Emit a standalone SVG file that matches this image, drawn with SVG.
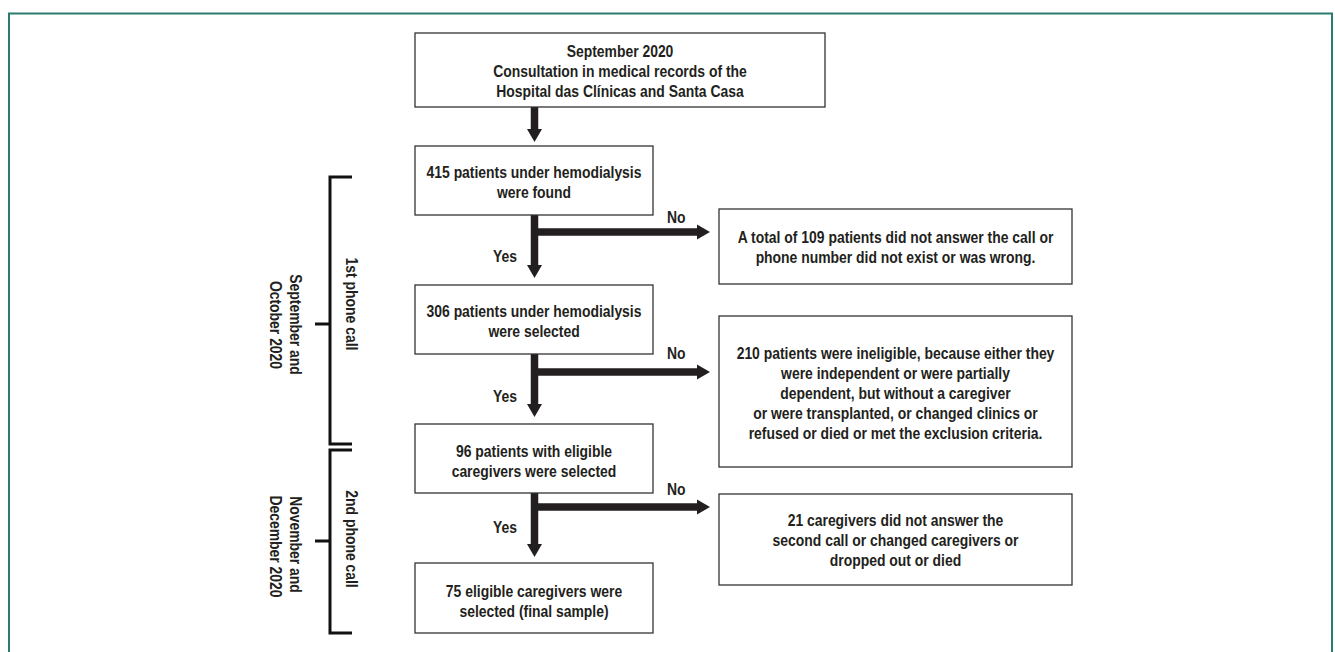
<svg xmlns="http://www.w3.org/2000/svg" width="1335" height="652" viewBox="0 0 1335 652">
<defs>
<style>
.frame{fill:none;stroke:#2a7d6d;stroke-width:2}
.box{fill:#fff;stroke:#333;stroke-width:1.3}
.t{font-family:'Liberation Sans',Arial,sans-serif;font-size:16px;font-weight:bold;fill:#231f20;text-anchor:middle}
.e{text-anchor:end}
.s{text-anchor:start}
.arr{fill:none;stroke:#231f20;stroke-width:7.5;marker-end:url(#ah)}
.br{fill:none;stroke:#111;stroke-width:3}
</style>
<marker id="ah" markerUnits="userSpaceOnUse" markerWidth="14" markerHeight="16" refX="1" refY="8" orient="auto" viewBox="0 0 14 16">
<path d="M0,0.5 L13,8 L0,15.5 z" fill="#231f20"/>
</marker>
</defs>
<rect x="0" y="0" width="1335" height="652" fill="#fff"/>
<rect class="frame" x="9" y="13.5" width="1323" height="700"/>

<g id="connectors">
<path class="arr" d="M534.5,107 V130"/>
<path class="arr" d="M534.5,215 V266"/>
<path class="arr" d="M531,232 H698"/>
<path class="arr" d="M534.5,354 V405"/>
<path class="arr" d="M531,372 H698"/>
<path class="arr" d="M534.5,493 V545"/>
<path class="arr" d="M531,507 H698"/>
<text class="t e" transform="translate(517,262) scale(0.87,1)">Yes</text>
<text class="t e" transform="translate(517,402) scale(0.87,1)">Yes</text>
<text class="t e" transform="translate(517,533) scale(0.87,1)">Yes</text>
<text class="t s" transform="translate(667,223) scale(0.87,1)">No</text>
<text class="t s" transform="translate(667,359) scale(0.87,1)">No</text>
<text class="t s" transform="translate(667,495) scale(0.87,1)">No</text>
</g>

<g id="phase1">
<path class="br" d="M352,177 H330 V444 H352 M315,324 H330"/>
<text class="t" transform="translate(345.5,304) rotate(90) scale(0.87,1)">1st phone call</text>
<text class="t" transform="translate(290,324.5) rotate(90) scale(0.87,1)">September and</text>
<text class="t" transform="translate(270,325) rotate(90) scale(0.87,1)">October 2020</text>
</g>
<g id="phase2">
<path class="br" d="M352,450 H330 V633 H352 M315,541 H330"/>
<text class="t" transform="translate(345.5,539) rotate(90) scale(0.87,1)">2nd phone call</text>
<text class="t" transform="translate(290,544.5) rotate(90) scale(0.87,1)">November and</text>
<text class="t" transform="translate(270,546.5) rotate(90) scale(0.87,1)">December 2020</text>
</g>

<g id="n0">
<rect class="box" x="415" y="33" width="410" height="74"/>
<text class="t" transform="translate(620,57) scale(0.87,1)">September 2020</text>
<text class="t" transform="translate(620,77) scale(0.87,1)">Consultation in medical records of the</text>
<text class="t" transform="translate(620,97) scale(0.87,1)">Hospital das Clínicas and Santa Casa</text>
</g>
<g id="n1">
<rect class="box" x="415" y="146" width="238" height="69"/>
<text class="t" transform="translate(534,178) scale(0.87,1)">415 patients under hemodialysis</text>
<text class="t" transform="translate(534,198) scale(0.87,1)">were found</text>
</g>
<g id="n2">
<rect class="box" x="415" y="285" width="238" height="69"/>
<text class="t" transform="translate(534,317) scale(0.87,1)">306 patients under hemodialysis</text>
<text class="t" transform="translate(534,337) scale(0.87,1)">were selected</text>
</g>
<g id="n3">
<rect class="box" x="415" y="424" width="238" height="69"/>
<text class="t" transform="translate(534,457) scale(0.87,1)">96 patients with eligible</text>
<text class="t" transform="translate(534,477) scale(0.87,1)">caregivers were selected</text>
</g>
<g id="n4">
<rect class="box" x="415" y="563" width="238" height="70"/>
<text class="t" transform="translate(534,597) scale(0.87,1)">75 eligible caregivers were</text>
<text class="t" transform="translate(534,617) scale(0.87,1)">selected (final sample)</text>
</g>
<g id="r1">
<rect class="box" x="719" y="209" width="353" height="75"/>
<text class="t" transform="translate(895.5,243) scale(0.87,1)">A total of 109 patients did not answer the call or</text>
<text class="t" transform="translate(895.5,263) scale(0.87,1)">phone number did not exist or was wrong.</text>
</g>
<g id="r2">
<rect class="box" x="719" y="316" width="353" height="151"/>
<text class="t" transform="translate(895.5,359) scale(0.87,1)">210 patients were ineligible, because either they</text>
<text class="t" transform="translate(895.5,379) scale(0.87,1)">were independent or were partially</text>
<text class="t" transform="translate(895.5,399) scale(0.87,1)">dependent, but without a caregiver</text>
<text class="t" transform="translate(895.5,419) scale(0.87,1)">or were transplanted, or changed clinics or</text>
<text class="t" transform="translate(895.5,439) scale(0.87,1)">refused or died or met the exclusion criteria.</text>
</g>
<g id="r3">
<rect class="box" x="719" y="494" width="353" height="91"/>
<text class="t" transform="translate(895.5,526) scale(0.87,1)">21 caregivers did not answer the</text>
<text class="t" transform="translate(895.5,546) scale(0.87,1)">second call or changed caregivers or</text>
<text class="t" transform="translate(895.5,566) scale(0.87,1)">dropped out or died</text>
</g>
</svg>
